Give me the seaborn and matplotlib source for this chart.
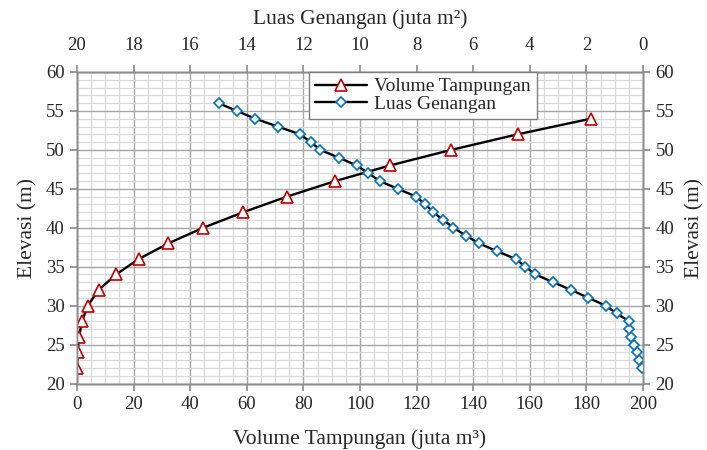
import numpy as np
import pandas as pd
import matplotlib
matplotlib.use("Agg")
import matplotlib.pyplot as plt
import seaborn as sns
from matplotlib.ticker import MultipleLocator

# Volume tampungan (juta m3) per elevasi
elev_vol = [22, 24, 26, 28, 30, 32, 34, 36, 38, 40, 42, 44, 46, 48, 50, 52, 54]
volume = [0.0, 0.2, 0.7, 1.8, 3.8, 7.6, 13.8, 21.9, 32.3, 44.6, 58.8, 74.2,
          91.3, 110.6, 132.3, 155.7, 181.5]

# Luas genangan (juta m2) per elevasi
elev_luas = list(range(22, 57))
luas = [0.04, 0.13, 0.22, 0.33, 0.42, 0.48, 0.50, 0.93, 1.32, 1.93, 2.53,
        3.17, 3.80, 4.16, 4.50, 5.17, 5.80, 6.26, 6.70, 7.06, 7.41, 7.69,
        8.02, 8.66, 9.31, 9.70, 10.12, 10.75, 11.40, 11.74, 12.12, 12.91,
        13.70, 14.35, 15.00]

df_vol = pd.DataFrame({"Elevasi": elev_vol, "Volume": volume})
df_luas = pd.DataFrame({"Elevasi": elev_luas, "Luas": luas})

sns.set_theme(style="white")
plt.rcParams["font.family"] = ["Liberation Serif", "DejaVu Serif"]

GRID_MAJOR = "#a6a6a6"
GRID_MINOR = "#d9d9d9"
SPINE = "#8c8c8c"
TICK_FS = 13.5
LABEL_FS = 15.5

fig = plt.figure(figsize=(7.07, 4.5), dpi=100)
ax = fig.add_axes([77 / 707, 1 - 383.5 / 450, 566 / 707, 311.5 / 450])

# volume curve (bottom axis)
sns.lineplot(data=df_vol, x="Volume", y="Elevasi", ax=ax, sort=False,
             estimator=None, color="black", lw=1.7, marker="^", ms=8,
             mfc="white", mec="#c00000", mew=1.2, label="Volume Tampungan",
             zorder=3)
ax.set_xlim(0, 200)
ax.set_ylim(20, 60)
ax.xaxis.set_major_locator(MultipleLocator(20))
ax.xaxis.set_minor_locator(MultipleLocator(5))
ax.yaxis.set_major_locator(MultipleLocator(5))
ax.yaxis.set_minor_locator(MultipleLocator(1))
ax.grid(which="minor", color=GRID_MINOR, lw=0.9)
ax.grid(which="major", color=GRID_MAJOR, lw=1.0)
ax.set_axisbelow(True)
ax.set_xlabel("Volume Tampungan (juta m³)", fontsize=LABEL_FS, labelpad=12)
ax.set_ylabel("Elevasi (m)", fontsize=LABEL_FS, labelpad=6)
ax.tick_params(which="major", labelsize=TICK_FS, length=5, color=SPINE,
               direction="out", pad=4)
ax.tick_params(which="minor", length=0)

# luas curve (top axis, reversed)
ax_top = ax.twiny()
sns.lineplot(data=df_luas, x="Luas", y="Elevasi", ax=ax_top, sort=False,
             estimator=None, color="black", lw=1.7, marker="D", ms=5.5,
             mfc="white", mec="#0070c0", mew=1.2, label="Luas Genangan",
             zorder=3)
ax_top.set_xlim(20, 0)
ax_top.xaxis.set_major_locator(MultipleLocator(2))
ax_top.set_xlabel("Luas Genangan (juta m²)", fontsize=LABEL_FS, labelpad=9)
ax_top.tick_params(labelsize=TICK_FS, length=5, color=SPINE, direction="out",
                   pad=8)
ax_top.grid(False)

# elevation on the right side
ax_right = ax.twinx()
ax_right.set_ylim(20, 60)
ax_right.yaxis.set_major_locator(MultipleLocator(5))
ax_right.set_ylabel("Elevasi (m)", fontsize=LABEL_FS, labelpad=8)
ax_right.tick_params(labelsize=TICK_FS, length=5, color=SPINE,
                     direction="out", pad=4)
ax_right.grid(False)

for a in (ax, ax_top, ax_right):
    for sp in a.spines.values():
        sp.set_color(SPINE)
        sp.set_linewidth(1.0)

# single legend combining both series
h1, l1 = ax.get_legend_handles_labels()
h2, l2 = ax_top.get_legend_handles_labels()
ax.get_legend().remove()
ax_top.get_legend().remove()
leg = ax_right.legend(h1 + h2, l1 + l2, loc="upper left",
                      bbox_to_anchor=(309 / 707, 1 - 72 / 450),
                      bbox_transform=fig.transFigure, fontsize=14,
                      frameon=True, fancybox=False, framealpha=1,
                      edgecolor="#7f7f7f", handlelength=2.7,
                      borderpad=0.3, labelspacing=0.0, handletextpad=0.35,
                      borderaxespad=0)
leg.get_frame().set_linewidth(1.0)

fig.savefig("out.png", dpi=100)
